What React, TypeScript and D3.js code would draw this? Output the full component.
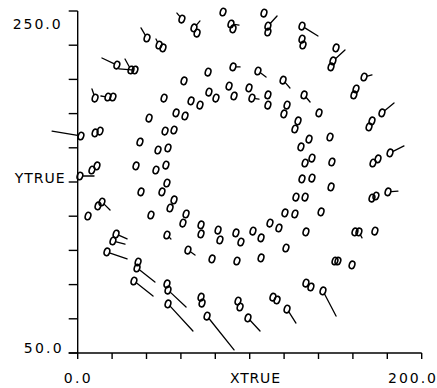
import React from "react";
import * as d3 from "d3";

// Outer ring (ellipse centres, data units)
const outerRing: [number, number][] = [
  [60.6, 245.3], [67.6, 240.1], [69.4, 237.1], [84.5, 249.4], [89.1, 242.4], [90.3, 239.5],
  [108.3, 248.8], [110.6, 241.2], [110.6, 237.7], [130.4, 241.2], [130.4, 233.6], [131.0, 230.1],
  [150.2, 228.4], [148.4, 220.8], [147.3, 217.3], [166.5, 211.4], [161.8, 204.4], [160.6, 200.9],
  [176.9, 190.4], [171.1, 185.7], [169.4, 182.2], [181.6, 167.0], [174.6, 163.5], [171.7, 161.1],
  [180.4, 144.2], [173.4, 141.8], [171.1, 140.6], [172.8, 121.3], [163.5, 120.8], [161.2, 120.8],
  [159.5, 101.5], [151.3, 103.8], [149.6, 103.8], [142.6, 86.3], [132.7, 90.9], [135.6, 88.6],
  [121.7, 75.7], [113.5, 82.7], [115.9, 81.0], [99.0, 70.5], [93.2, 80.4], [94.4, 76.9],
  [75.2, 71.6], [71.7, 82.7], [72.3, 79.2], [52.5, 78.7], [51.9, 90.4], [52.5, 86.8],
  [32.7, 92.1], [35.1, 103.2], [34.5, 99.7], [17.0, 109.1], [20.5, 115.5], [22.3, 119.6],
  [6.0, 130.1], [11.8, 136.0], [14.1, 138.3], [1.3, 153.5], [8.3, 157.0], [11.2, 159.4],
  [1.9, 176.9], [10.1, 178.7], [13.0, 179.8], [10.1, 199.1], [17.6, 199.7], [20.5, 199.7],
  [22.8, 218.4], [31.0, 215.5], [33.3, 215.5], [40.3, 234.2], [47.3, 230.1], [49.6, 228.4],
];

// Middle ring of single ellipses
const middleRing: [number, number][] = [
  [61.8, 209.1], [75.8, 214.3], [90.3, 217.3], [104.8, 214.9], [119.4, 209.6], [131.6, 200.9],
  [140.3, 190.4], [146.7, 176.3], [147.8, 161.7], [147.3, 147.1], [141.5, 132.5], [132.7, 120.8],
  [121.1, 111.4], [106.6, 105.6], [92.6, 103.8], [78.1, 105.0], [64.1, 110.2], [51.9, 119.0],
  [42.6, 130.7], [36.8, 144.2], [33.9, 159.4], [36.2, 173.4], [41.5, 187.4], [50.2, 199.1],
];

// Inner ring of paired ellipses
const innerRing: [number, number][] = [
  [65.9, 197.4], [71.1, 195.0], [76.3, 202.6], [80.4, 199.1], [88.0, 206.1], [90.9, 200.3],
  [99.6, 205.0], [101.3, 199.1], [110.6, 200.9], [110.6, 195.0], [121.7, 195.0], [119.9, 189.8],
  [128.1, 185.7], [126.3, 181.0], [134.5, 175.1], [129.8, 170.5], [136.2, 164.0], [132.2, 161.1],
  [136.2, 152.3], [130.4, 151.8], [126.9, 141.2], [132.2, 141.2], [120.5, 131.9], [126.3, 131.3],
  [111.8, 126.0], [117.0, 123.1], [101.9, 121.3], [106.6, 117.3], [92.0, 120.2], [94.9, 114.9],
  [81.6, 121.9], [82.7, 116.1], [71.7, 124.9], [71.7, 119.6], [61.2, 126.0], [63.0, 131.3],
  [53.7, 134.8], [56.0, 139.5], [49.0, 144.2], [51.9, 149.4], [45.5, 157.0], [51.3, 159.9],
  [46.7, 168.7], [52.5, 169.9], [50.8, 179.8], [56.0, 180.4], [57.2, 190.4], [62.4, 188.6],
];

// Vectors: [x0, y0, x1, y1]
const vectors: [number, number, number, number][] = [
  [60.6, 245.3, 57.7, 248.8], [67.6, 240.1, 71.1, 244.2], [89.1, 242.4, 93.8, 241.8],
  [110.6, 241.2, 115.9, 247.1], [130.4, 241.2, 139.7, 235.4], [148.4, 220.8, 155.4, 227.2],
  [166.5, 211.4, 171.1, 212.6], [176.9, 190.4, 183.9, 196.2], [181.6, 167.0, 189.7, 171.1],
  [180.4, 144.2, 186.2, 144.7], [163.5, 120.8, 165.3, 117.3], [142.6, 86.3, 150.2, 71.6],
  [121.7, 75.7, 126.9, 67.5], [99.0, 70.5, 106.0, 62.9], [75.2, 71.6, 90.9, 51.8],
  [52.5, 78.7, 67.0, 62.9], [52.5, 86.8, 63.0, 76.9], [32.7, 92.1, 43.8, 83.3],
  [34.5, 99.7, 44.9, 91.5], [17.0, 109.1, 28.7, 105.0], [20.5, 115.5, 27.5, 113.7],
  [22.3, 119.6, 28.7, 116.7], [14.1, 138.3, 18.8, 133.6], [1.3, 153.5, 9.5, 153.5],
  [1.9, 176.9, -14.9, 179.8], [10.1, 199.1, 8.3, 204.4], [17.6, 199.7, 13.5, 200.3],
  [22.8, 218.4, 14.1, 222.5], [31.0, 215.5, 27.5, 221.9], [33.3, 215.5, 24.0, 216.1],
  [40.3, 234.2, 36.8, 240.1], [47.3, 230.1, 45.5, 233.6],
  [90.3, 217.3, 94.4, 217.3], [104.8, 214.9, 109.5, 211.4], [119.4, 209.6, 123.4, 205.0],
  [131.6, 200.9, 135.1, 196.8], [64.1, 110.2, 68.2, 107.3], [51.9, 119.0, 54.2, 116.7],
  [101.3, 199.1, 105.4, 198.5],
];

const xTicks = d3.range(0, 201, 20);
const yTicks = d3.range(50, 251, 20);

export default function App() {
  const W = 437, H = 388;
  const x = d3.scaleLinear().domain([0, 200]).range([77.7, 421.7]);
  const y = d3.scaleLinear().domain([50, 250]).range([353, 11]);
  const font = "'DejaVu Sans', sans-serif";
  const all = [...outerRing, ...middleRing, ...innerRing];
  const r0 = 3.4;
  return (
    <svg width={W} height={H} style={{ position: "absolute", left: 0, top: 0, background: "#fff" }}>
      {/* axes */}
      <g stroke="#000" strokeWidth={1.4} fill="none">
        <line x1={x(0)} y1={y(50)} x2={x(0)} y2={y(250)} />
        <line x1={x(0) - 9} y1={y(50)} x2={x(200)} y2={y(50)} />
        {yTicks.map((t) => (
          <line key={"y" + t} x1={x(0) - 9} x2={x(0)} y1={y(t)} y2={y(t)} />
        ))}
        {xTicks.map((t) => (
          <line key={"x" + t} x1={x(t)} x2={x(t)} y1={y(50)} y2={y(50) + 6} />
        ))}
      </g>
      {/* vectors */}
      <g stroke="#000" strokeWidth={1.3} strokeLinecap="round">
        {vectors.map((v, i) => {
          const px0 = x(v[0]), py0 = y(v[1]), px1 = x(v[2]), py1 = y(v[3]);
          const dx = px1 - px0, dy = py1 - py0;
          const len = Math.hypot(dx, dy) || 1;
          return (
            <line key={i} x1={px0 + (dx / len) * r0} y1={py0 + (dy / len) * r0} x2={px1} y2={py1} />
          );
        })}
      </g>
      {/* ellipses */}
      <g stroke="#000" strokeWidth={1.6} fill="none">
        {all.map((p, i) => (
          <ellipse key={i} cx={0} cy={0} rx={2.7} ry={3.8}
            transform={`translate(${x(p[0])},${y(p[1])}) rotate(18)`} />
        ))}
      </g>
      {/* labels */}
      <g fill="#000" fontFamily={font} fontSize={14}>
        <text x={x(0) - 17} y={y(250) + 18} textAnchor="end" textLength={48} lengthAdjust="spacing">250.0</text>
        <text x={x(0) - 13} y={y(150) + 1} textAnchor="end" textLength={50} lengthAdjust="spacing">YTRUE</text>
        <text x={x(0) - 16} y={y(50)} textAnchor="end" textLength={38} lengthAdjust="spacing">50.0</text>
        <text x={x(0) - 14} y={383} textLength={27} lengthAdjust="spacing">0.0</text>
        <text x={230} y={383} textLength={50} lengthAdjust="spacing">XTRUE</text>
        <text x={388} y={383} textLength={48} lengthAdjust="spacing">200.0</text>
      </g>
    </svg>
  );
}
